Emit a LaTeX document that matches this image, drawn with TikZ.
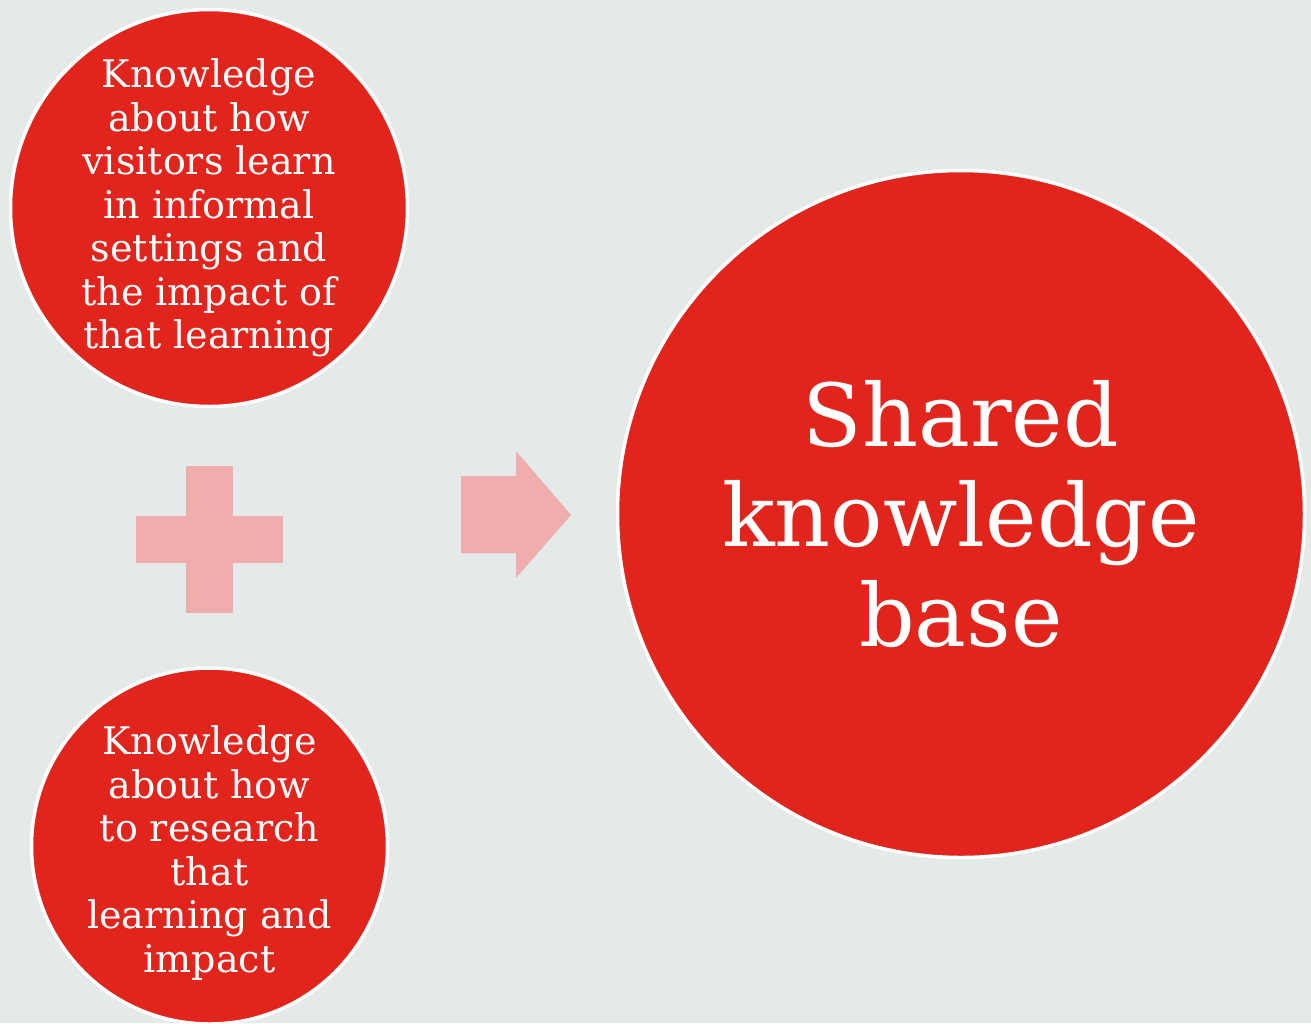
\documentclass[tikz,border=0pt]{standalone}
\usepackage{fontspec}
\setmainfont{DejaVu Serif}
\usepackage{tikz}
\usetikzlibrary{positioning}
\definecolor{bgcol}{HTML}{E4E9EA}
\definecolor{redcol}{HTML}{E1241C}
\definecolor{pinkcol}{HTML}{EFAEAB}

\begin{document}
\begin{tikzpicture}[x=1pt,y=-1pt,
		ball/.style={circle,fill=redcol,draw=white,line width=3.5pt,inner sep=0pt,text=white,align=center},
		small/.style={font=\fontsize{38}{43.5}\selectfont},
		large/.style={font=\fontsize{87}{100}\selectfont}]
		\fill[bgcol] (0,0) rectangle (1311,1023);
		\useasboundingbox (0,0) rectangle (1311,1023);
	
		\node[ball,small,minimum size=397pt] (visitors) at (209,208) {Knowledge\\about how\\visitors learn\\in informal\\settings and\\the impact of\\that learning};
		\node[ball,small,minimum size=356pt] (research) at (209.5,846) {};
		\node[small,text=white,align=center] (researchtext) at (209.5,853) {Knowledge\\about how\\to research\\that\\learning and\\impact};
		\node[ball,large,minimum size=687pt] (shared) at (961,514) {Shared\\knowledge\\base};
	
		% plus and arrow
		\fill[pinkcol] (186,466) rectangle (233,613);
		\fill[pinkcol] (136,516) rectangle (283,563);
		\fill[pinkcol] (461,476) -- (516,476) -- (516,451) -- (571,515) -- (516,578) -- (516,553) -- (461,553) -- cycle;
	\end{tikzpicture}
\end{document}
